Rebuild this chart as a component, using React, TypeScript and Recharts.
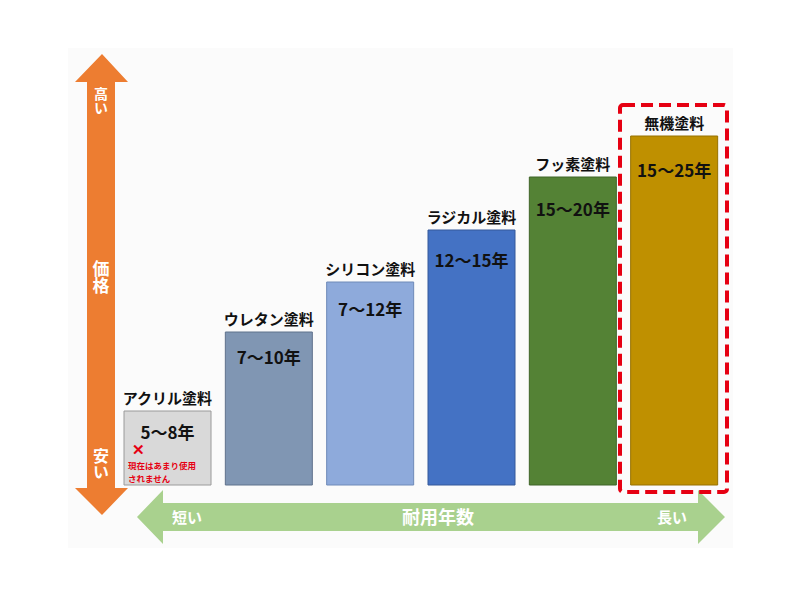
import { BarChart, Bar, XAxis, YAxis, Cell, LabelList } from "recharts";

// 塗料の種類（左から耐用年数の短い順）
const paints = ["アクリル塗料", "ウレタン塗料", "シリコン塗料", "ラジカル塗料", "フッ素塗料", "無機塗料"];
const lifespans = ["5～8年", "7～10年", "7～12年", "12～15年", "15～20年", "15～25年"];
// 価格の相対的な高さ（目盛りなし、図から読み取り）
const priceLevel = [1.48, 3.06, 4.06, 5.1, 6.16, 6.98];
const fills = ["#d9d9d9", "#8096b3", "#8eaadb", "#4472c4", "#548235", "#bf9000"];
const edges = ["#9a9a9a", "#5f728c", "#6f8ab8", "#35599a", "#3f6428", "#967100"];
const acrylicNote = ["現在はあまり使用", "されません"];

const data = paints.map((name, i) => ({
  name,
  years: lifespans[i],
  price: priceLevel[i],
}));

const FONT = '"Noto Sans CJK JP", "Noto Sans", sans-serif';

const TopLabel = (props: any) => {
  const { x, y, width, value } = props;
  return (
    <text
      x={x + width / 2}
      y={y - 7}
      textAnchor="middle"
      fontFamily={FONT}
      fontWeight={700}
      fontSize={15}
      fill="#111"
    >
      {value}
    </text>
  );
};

const InsideLabel = (props: any) => {
  const { x, y, width, height, value, index } = props;
  const cy = y + 18 + height * 0.05;
  return (
    <g>
      <text
        x={x + width / 2}
        y={cy + 6}
        textAnchor="middle"
        fontFamily={FONT}
        fontWeight={700}
        fontSize={17}
        fill="#111"
      >
        {value}
      </text>
      {index === 0 && (
        <g fontFamily={FONT} fontWeight={700} fill="#e60012">
          <text x={x + 8} y={cy + 22} fontSize={15}>
            ✕
          </text>
          {acrylicNote.map((line, i) => (
            <text key={i} x={x + 4} y={cy + 36 + i * 12.8} fontSize={8.5}>
              {line}
            </text>
          ))}
        </g>
      )}
    </g>
  );
};

const VText = ({ x, y, size, children }: any) => (
  <text
    x={x}
    y={y}
    fontSize={size}
    textAnchor="middle"
    style={{ writingMode: "vertical-rl" as any }}
  >
    {children}
  </text>
);

export default function App() {
  return (
    <div style={{ position: "absolute", left: 0, top: 0, width: 800, height: 600, background: "#fff" }}>
      <svg width={800} height={600} style={{ position: "absolute", left: 0, top: 0 }}>
        <rect x={68} y={48} width={665} height={500} fill="#fbfbfb" />
      </svg>
      <div style={{ position: "absolute", left: 0, top: 0 }}>
        <BarChart
          width={800}
          height={600}
          data={data}
          margin={{ top: 85, right: 75, bottom: 115, left: 117 }}
          barCategoryGap={7}
        >
          <XAxis dataKey="name" hide />
          <YAxis hide domain={[0, 8]} />
          <Bar dataKey="price" isAnimationActive={false}>
            {data.map((_, i) => (
              <Cell key={i} fill={fills[i]} stroke={edges[i]} strokeWidth={1} />
            ))}
            <LabelList dataKey="name" content={TopLabel} />
            <LabelList dataKey="years" content={InsideLabel} />
          </Bar>
        </BarChart>
      </div>
      <svg width={800} height={600} style={{ position: "absolute", left: 0, top: 0, pointerEvents: "none" }}>
        {/* 価格の矢印 */}
        <polygon
          points="102,54 128,82 115,82 115,488 128,488 102,515 75,488 87,488 87,82 75,82"
          fill="#ed7d31"
        />
        <g fontFamily={FONT} fontWeight={700} fill="#fff">
          <VText x={101} y={101} size={14}>高い</VText>
          <VText x={101} y={277} size={17}>価格</VText>
          <VText x={101} y={464} size={16}>安い</VText>
        </g>
        {/* 耐用年数の矢印 */}
        <polygon
          points="137,517 163,490 163,503 698,503 698,490 725,517 698,544 698,531 163,531 163,544"
          fill="#a9d18e"
        />
        <g fontFamily={FONT} fontWeight={700} fill="#fff" textAnchor="middle">
          <text x={187} y={523} fontSize={15}>短い</text>
          <text x={438} y={524} fontSize={18}>耐用年数</text>
          <text x={672} y={523} fontSize={15}>長い</text>
        </g>
        {/* おすすめ枠 */}
        <rect
          x={620}
          y={105}
          width={107}
          height={387}
          rx={3}
          fill="none"
          stroke="#e60012"
          strokeWidth={4}
          strokeDasharray="12 6"
        />
      </svg>
    </div>
  );
}
